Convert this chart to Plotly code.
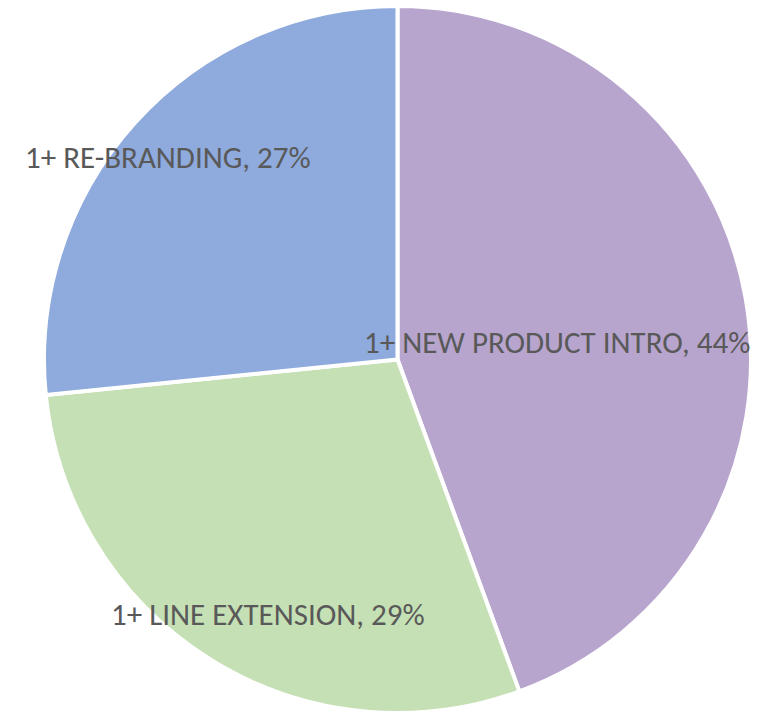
import math
import plotly.graph_objects as go

# Share of launches by activity type (percent)
categories = ["1+ NEW PRODUCT INTRO", "1+ LINE EXTENSION", "1+ RE-BRANDING"]
shares = [44.4, 29.0, 26.6]
slice_colors = ["#B7A5CE", "#C5E0B4", "#8FAADC"]

# Label placement: fraction of radius from centre, plus a small angular nudge (deg)
label_radius = [0.455, 0.808, 0.866]
label_nudge = [3.9, -5.1, -0.6]

W, H = 772, 714
dom_x = [44 / W, 751 / W]
dom_y = [1 - 713 / H, 1 - 6 / H]

fig = go.Figure(
    go.Pie(
        labels=categories,
        values=shares,
        sort=False,
        direction="clockwise",
        rotation=0,
        marker=dict(colors=slice_colors, line=dict(color="#FFFFFF", width=4)),
        textinfo="none",
        hoverinfo="label+percent",
        showlegend=False,
        domain=dict(x=dom_x, y=dom_y),
    )
)

# Place each slice's label along its mid-angle
cx = (dom_x[0] + dom_x[1]) / 2 * W
cy = (1 - (dom_y[0] + dom_y[1]) / 2) * H
R = min((dom_x[1] - dom_x[0]) * W, (dom_y[1] - dom_y[0]) * H) / 2
total = sum(shares)
start = 0.0
for name, v, f, nudge in zip(categories, shares, label_radius, label_nudge):
    mid = (start + v / 2) / total * 360 + nudge
    start += v
    px = cx + R * f * math.sin(math.radians(mid))
    py = cy - R * f * math.cos(math.radians(mid))
    fig.add_annotation(
        x=px / W,
        y=1 - py / H,
        xref="paper",
        yref="paper",
        text=f"{name}, {round(v / total * 100)}%",
        showarrow=False,
        xanchor="center",
        yanchor="middle",
        font=dict(family="Carlito, Lato, sans-serif", size=31, color="#595959"),
    )

fig.update_layout(
    width=W,
    height=H,
    margin=dict(l=0, r=0, t=0, b=0),
    paper_bgcolor="#FFFFFF",
    plot_bgcolor="#FFFFFF",
)

fig.write_html("out.html")
